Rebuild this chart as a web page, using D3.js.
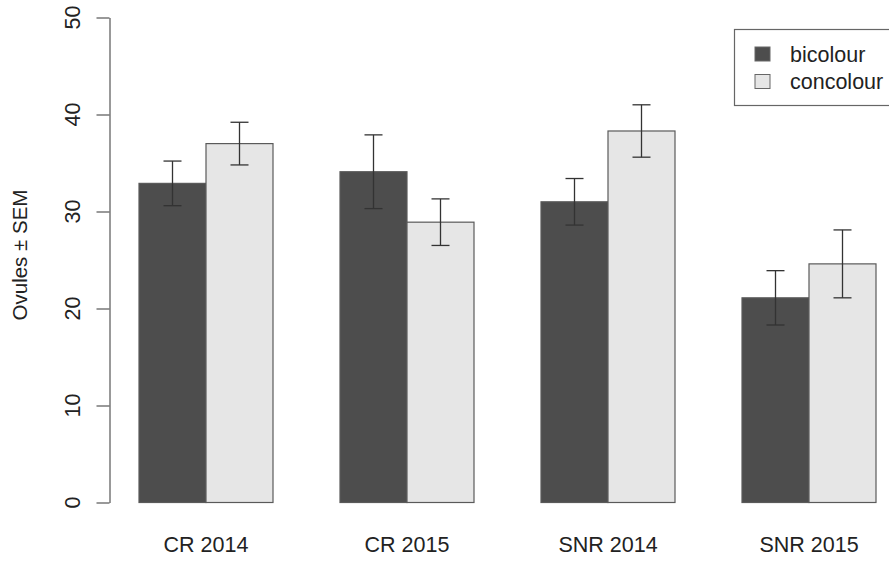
<!DOCTYPE html>
<html>
<head>
<meta charset="utf-8">
<script src="https://cdn.jsdelivr.net/npm/d3@7"></script>
<style>
  body { margin: 0; background: #fff; }
  text { font-family: "Liberation Sans", Arial, sans-serif; fill: #222; }
</style>
</head>
<body>
<script>
  // data
  var groups = ["CR 2014", "CR 2015", "SNR 2014", "SNR 2015"];
  var series = ["bicolour", "concolour"];
  var bicolour = [32.9, 34.1, 31.0, 21.1];
  var concolour = [37.0, 28.9, 38.3, 24.6];
  var bicolourSem = [2.3, 3.8, 2.4, 2.8];
  var concolourSem = [2.2, 2.4, 2.7, 3.5];
  var yTicks = [0, 10, 20, 30, 40, 50];

  var W = 889, H = 561;

  var svg = d3.select("body").append("svg")
    .attr("width", W)
    .attr("height", H);

  // barplot style positions: each bar 1 unit wide, 1 unit gap before each group
  var xScale = d3.scaleLinear().domain([0, 12]).range([72, 876]);
  var yScale = d3.scaleLinear().domain([0, 50]).range([502.5, 17.5]);

  var fillScale = d3.scaleOrdinal().domain(series).range(["#4d4d4d", "#e6e6e6"]);

  var rows = [];
  groups.forEach(function(g, i) {
    rows.push({group: g, key: "bicolour", value: bicolour[i], sem: bicolourSem[i], u: 1 + 3 * i});
    rows.push({group: g, key: "concolour", value: concolour[i], sem: concolourSem[i], u: 2 + 3 * i});
  });

  // bars
  svg.selectAll("rect.bar")
    .data(rows)
    .enter()
    .append("rect")
    .attr("class", "bar")
    .attr("x", d => xScale(d.u))
    .attr("y", d => yScale(d.value))
    .attr("width", d => xScale(d.u + 1) - xScale(d.u))
    .attr("height", d => yScale(0) - yScale(d.value))
    .attr("fill", d => fillScale(d.key))
    .attr("stroke", "#5a5a5a")
    .attr("stroke-width", 1.2);

  // error bars
  var err = svg.selectAll("g.err")
    .data(rows)
    .enter()
    .append("g")
    .attr("class", "err")
    .attr("stroke", "#333")
    .attr("stroke-width", 1.3);

  err.append("line")
    .attr("x1", d => xScale(d.u + 0.5))
    .attr("x2", d => xScale(d.u + 0.5))
    .attr("y1", d => yScale(d.value + d.sem))
    .attr("y2", d => yScale(d.value - d.sem));
  err.append("line")
    .attr("x1", d => xScale(d.u + 0.5) - 9)
    .attr("x2", d => xScale(d.u + 0.5) + 9)
    .attr("y1", d => yScale(d.value + d.sem))
    .attr("y2", d => yScale(d.value + d.sem));
  err.append("line")
    .attr("x1", d => xScale(d.u + 0.5) - 9)
    .attr("x2", d => xScale(d.u + 0.5) + 9)
    .attr("y1", d => yScale(d.value - d.sem))
    .attr("y2", d => yScale(d.value - d.sem));

  // y axis, R style with vertical labels
  var yAxis = svg.append("g")
    .attr("transform", "translate(109.5,0)")
    .call(d3.axisLeft(yScale).tickValues(yTicks).tickSize(13).tickSizeOuter(0).tickPadding(0));
  yAxis.selectAll("path, line").attr("stroke", "#555").attr("stroke-width", 1.2);
  yAxis.selectAll("text").remove();

  svg.selectAll("text.ytick")
    .data(yTicks)
    .enter()
    .append("text")
    .attr("class", "ytick")
    .attr("transform", d => "translate(80," + yScale(d) + ") rotate(-90)")
    .attr("text-anchor", "middle")
    .attr("font-size", 21.5)
    .text(d => d);

  svg.append("text")
    .attr("transform", "translate(27,255) rotate(-90)")
    .attr("text-anchor", "middle")
    .attr("font-size", 20.5)
    .text("Ovules ± SEM");

  // group labels
  svg.selectAll("text.xlab")
    .data(groups)
    .enter()
    .append("text")
    .attr("class", "xlab")
    .attr("x", (d, i) => xScale(2 + 3 * i))
    .attr("y", 551.5)
    .attr("text-anchor", "middle")
    .attr("font-size", 21.5)
    .text(d => d);

  // legend
  var legend = svg.append("g");
  legend.append("rect")
    .attr("x", 734.5)
    .attr("y", 29.5)
    .attr("width", 170)
    .attr("height", 76)
    .attr("fill", "#fff")
    .attr("stroke", "#666")
    .attr("stroke-width", 1.2);

  series.forEach(function(s, i) {
    var row = legend.append("g")
      .attr("transform", "translate(755," + (54 + i * 27.5) + ")");
    row.append("rect")
      .attr("x", 0)
      .attr("y", -7)
      .attr("width", 15)
      .attr("height", 14)
      .attr("fill", fillScale(s))
      .attr("stroke", "#666");
    row.append("text")
      .attr("x", 35)
      .attr("y", 7.5)
      .attr("font-size", 21.5)
      .text(s);
  });
</script>
</body>
</html>
